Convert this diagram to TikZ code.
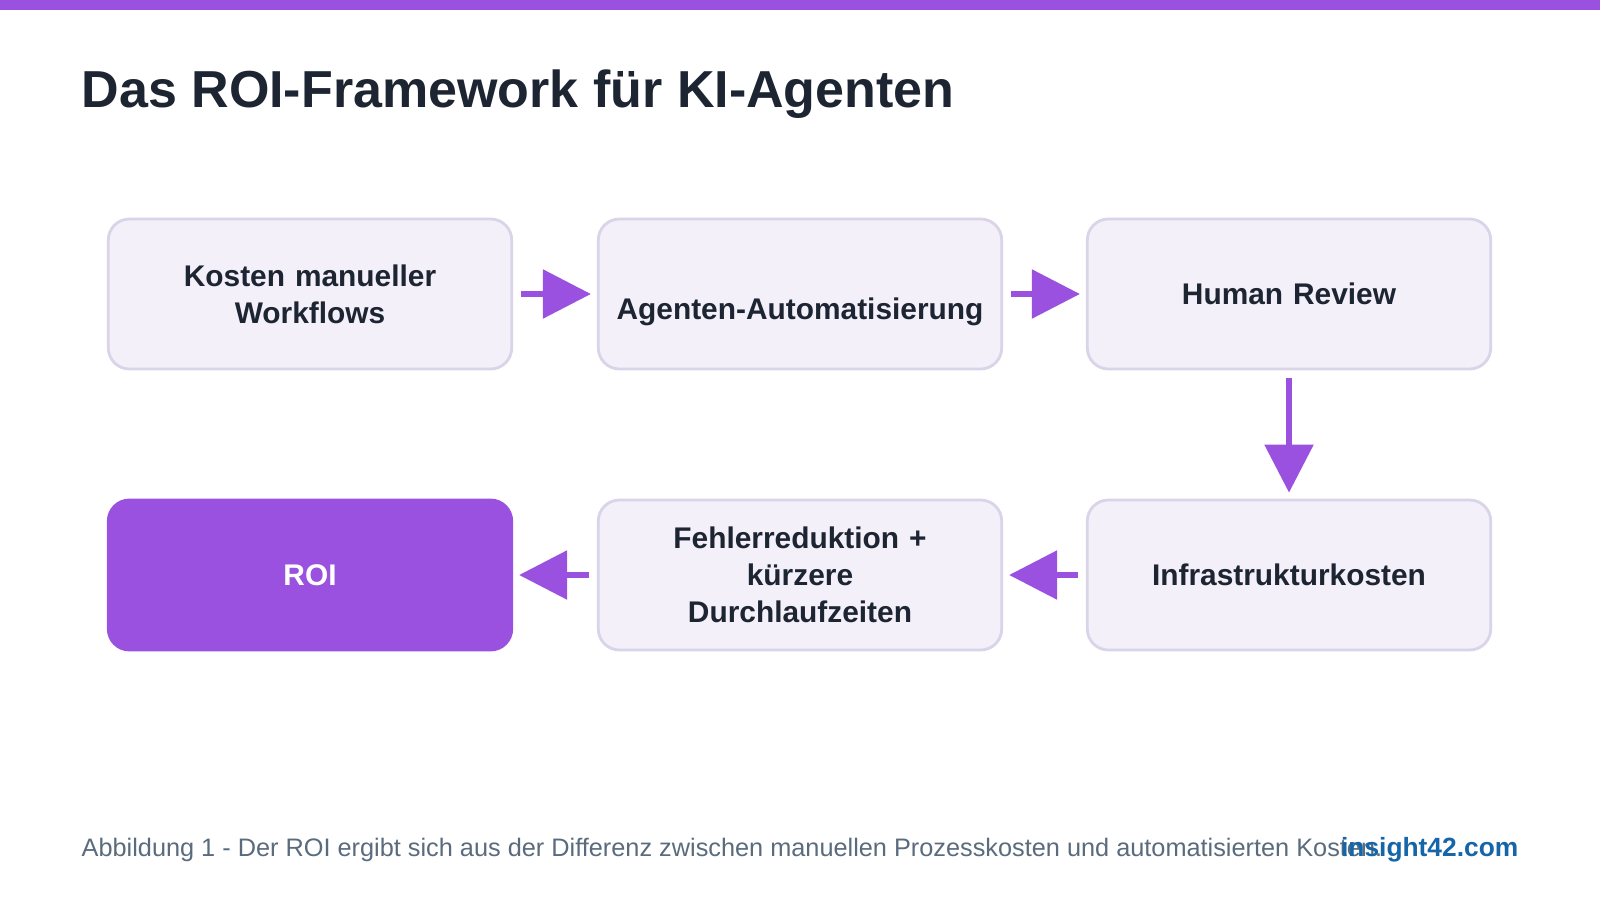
\documentclass[tikz,border=0pt]{standalone}
\usepackage{fontspec}
\setmainfont{Liberation Sans}
\usetikzlibrary{positioning,arrows.meta}
\definecolor{roiviolet}{HTML}{9B51E0}
\definecolor{boxfill}{HTML}{F3F0FA}
\definecolor{boxline}{HTML}{D9D4E8}
\definecolor{darktext}{HTML}{1E2532}
\definecolor{capgrey}{HTML}{5A6B7D}
\definecolor{linkblue}{HTML}{1565A8}
\tikzset{
  stage/.style={draw=boxline, line width=0.8pt, fill=boxfill, rounded corners=6pt,
    minimum width=4cm, minimum height=1.5cm, align=center, text width=3.8cm,
    font=\fontsize{8.5}{10.6}\selectfont\bfseries, text=darktext},
  goal/.style={stage, draw=roiviolet, fill=roiviolet, text=white},
  flow/.style={draw=roiviolet, line width=1.6pt,
    -{Triangle[length=0.48cm,width=0.48cm]}, shorten <=0.08cm, shorten >=0.06cm}
}
\begin{document}
\begin{tikzpicture}
  \useasboundingbox (0,0) rectangle (16,9);
  % Header
  \fill[roiviolet] (0,8.9) rectangle (16,9);
  \node[anchor=base west, inner sep=0pt, text=darktext, font=\fontsize{14.8}{18}\selectfont\bfseries]
    (title) at (0.81,7.92) {Das ROI-Framework für KI-Agenten};
  % Stages
  \node[stage] (manual) at (3.1,6.06) {Kosten manueller\\Workflows};
  \node[stage] (agent) at (8.0,6.06) {\vphantom{X}\\Agenten-Automatisierung};
  \node[stage] (review) at (12.89,6.06) {Human Review};
  \node[stage] (infra) at (12.89,3.25) {Infrastrukturkosten};
  \node[stage] (error) at (8.0,3.25) {Fehlerreduktion +\\kürzere\\Durchlaufzeiten};
  \node[goal] (roi) at (3.1,3.25) {ROI};
  % Connectors
  \draw[flow] (manual) -- (agent);
  \draw[flow] (agent) -- (review);
  \draw[flow] (review) -- (infra);
  \draw[flow] (infra) -- (error);
  \draw[flow] (error) -- (roi);
  % Caption
  \node[anchor=base west, inner sep=0pt, text=capgrey, font=\fontsize{7.2}{8}\selectfont] (caption) at (0.81,0.44)
    {Abbildung 1 - Der ROI ergibt sich aus der Differenz zwischen manuellen Prozesskosten und automatisierten Kosten.};
  \node[anchor=base east, inner sep=0pt, text=linkblue, font=\fontsize{7.5}{8}\selectfont\bfseries] (brand) at (15.19,0.44)
    {insight42.com};
\end{tikzpicture}
\end{document}
